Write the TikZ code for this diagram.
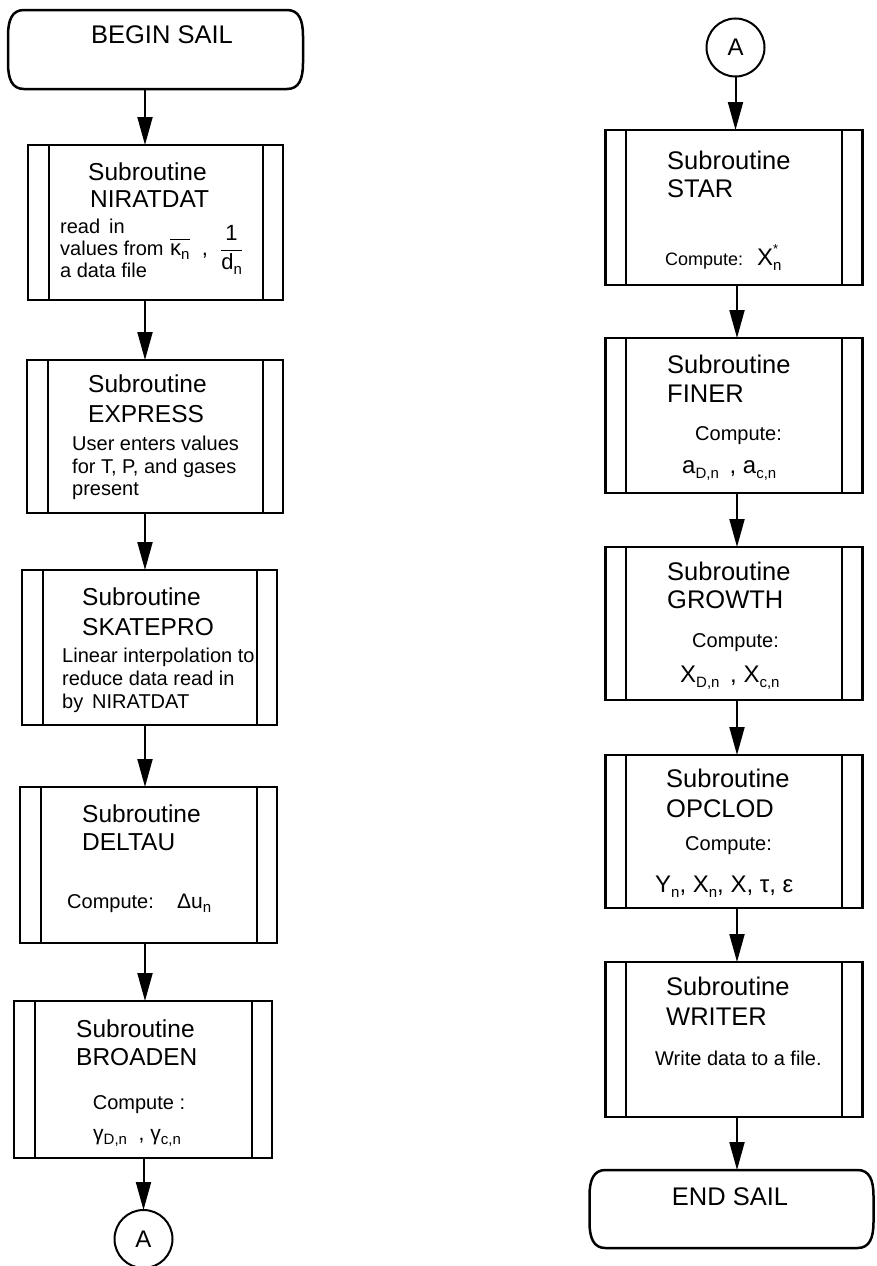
\documentclass[tikz,border=0pt]{standalone}
\usepackage{fontspec}
\setmainfont{Liberation Sans}
\usetikzlibrary{arrows.meta,calc}
\newcommand\tfontL{\fontsize{24.5}{29}\selectfont}
\newcommand\tfontR{\fontsize{25.5}{30}\selectfont}
\newcommand\bfont{\fontsize{20}{24}\selectfont}
\newcommand\mfont{\fontsize{24}{28}\selectfont}
\newcommand\sbs[1]{\raisebox{-0.22em}{\fontsize{15}{15}\selectfont #1}}
\newcommand\myinner[1]{%
  \draw[innerline] ($(#1.north west)+(20.5,0)$) -- ($(#1.south west)+(20.5,0)$);
  \draw[innerline] ($(#1.north east)+(-20.5,0)$) -- ($(#1.south east)+(-20.5,0)$);}
\newcommand\myterm[1]{%
  \draw[termline] ($(#1.north west)+(16,0)$) -- ($(#1.north east)+(-16,0)$)
   .. controls ($(#1.north east)+(-4,0)$) and ($(#1.north east)+(0,10)$) .. ($(#1.north east)+(0,26)$)
   -- ($(#1.south east)+(0,-26)$)
   .. controls ($(#1.south east)+(0,-10)$) and ($(#1.south east)+(-4,0)$) .. ($(#1.south east)+(-16,0)$)
   -- ($(#1.south west)+(16,0)$)
   .. controls ($(#1.south west)+(4,0)$) and ($(#1.south west)+(0,-10)$) .. ($(#1.south west)+(0,-26)$)
   -- ($(#1.north west)+(0,26)$)
   .. controls ($(#1.north west)+(0,10)$) and ($(#1.north west)+(4,0)$) .. cycle;}
\tikzset{
  subbox/.style={draw, line width=2.5pt, rectangle, inner sep=0pt, outer sep=0pt},
  termbox/.style={draw=none, rectangle, inner sep=0pt, outer sep=0pt},
  termline/.style={line width=2.5pt},
  innerline/.style={line width=2pt},
  conn/.style={draw, circle, line width=2pt, minimum size=58pt, inner sep=0pt, outer sep=0pt, font=\mfont},
  arr/.style={line width=2pt, -{Triangle[length=28pt,width=15pt]}},
  ttl/.style={anchor=base west, inner sep=0pt},
  txt/.style={anchor=base west, inner sep=0pt, font=\bfont},
}
\begin{document}
\begin{tikzpicture}[x=1pt,y=-1pt]
\useasboundingbox[fill=white] (0,0) rectangle (876,1266);
\coordinate (lx) at (145,0);
\coordinate (rx) at (737,0);

% ---------- left column ----------
\node[termbox, minimum width=295pt, minimum height=79pt] (begin) at (155.5,49.5) {};
\myterm{begin}
\node[anchor=base, inner sep=0pt, font=\fontsize{25.5}{30}\selectfont] (beginT) at (162,43) {BEGIN SAIL};

\node[subbox, minimum width=255pt, minimum height=155pt] (nir) at (155.5,222.5) {};
\myinner{nir}
\node[ttl, font=\tfontL] (nir1) at (88,180) {Subroutine};
\node[ttl, font=\tfontL] (nir2) at (90,207) {NIRATDAT};
\node[txt] (nir3) at (60,233) {read\, in};
\node[txt] (nir4) at (60,255) {values from};
\node[txt] (nir5) at (60,277) {a data file};
\node[ttl, font=\fontsize{22}{26}\selectfont] (nir6) at (170,255) {$\overline{\hbox{\rule{0pt}{14pt}κ\sbs{n}}}$\;\;,\; ${\displaystyle\frac{\hbox{\,1\,}}{\hbox{d\sbs{n}}}}$};

\node[subbox, minimum width=256pt, minimum height=153pt] (exp) at (155,436.5) {};
\myinner{exp}
\node[ttl, font=\tfontL] (exp1) at (88,392) {Subroutine};
\node[ttl, font=\tfontL] (exp2) at (88,422) {EXPRESS};
\node[txt] (exp3) at (72,450) {User enters values};
\node[txt] (exp4) at (72,473) {for T, P, and gases};
\node[txt] (exp5) at (72,495) {present};

\node[subbox, minimum width=255pt, minimum height=155pt] (ska) at (149.5,647.5) {};
\myinner{ska}
\node[ttl, font=\tfontL] (ska1) at (82,605) {Subroutine};
\node[ttl, font=\tfontL] (ska2) at (82,635) {SKATEPRO};
\node[txt] (ska3) at (62,662) {Linear interpolation to};
\node[txt] (ska4) at (62,685) {reduce data read in};
\node[txt] (ska5) at (62,708) {by\, NIRATDAT};

\node[subbox, minimum width=257pt, minimum height=156pt] (del) at (148.5,865) {};
\myinner{del}
\node[ttl, font=\tfontL] (del1) at (82,822) {Subroutine};
\node[ttl, font=\tfontL] (del2) at (82,850) {DELTAU};
\node[txt] (del3) at (67,908) {Compute:};
\node[ttl, font=\fontsize{21}{25}\selectfont] (del4) at (177,908) {Δu\sbs{n}};

\node[subbox, minimum width=258pt, minimum height=157pt] (bro) at (143,1079.5) {};
\myinner{bro}
\node[ttl, font=\tfontL] (bro1) at (76,1037) {Subroutine};
\node[ttl, font=\tfontL] (bro2) at (76,1065) {BROADEN};
\node[anchor=base, inner sep=0pt, font=\bfont] (bro3) at (139,1109) {Compute :};
\node[ttl, font=\fontsize{21}{25}\selectfont] (bro4) at (93,1140) {γ\sbs{D,n}\; , γ\sbs{c,n}};

\node[conn] (a1) at (143.5,1239) {A};

\draw[arr] (begin.south -| lx) -- (nir.north -| lx);
\draw[arr] (nir.south -| lx) -- (exp.north -| lx);
\draw[arr] (exp.south -| lx) -- (ska.north -| lx);
\draw[arr] (ska.south -| lx) -- (del.north -| lx);
\draw[arr] (del.south -| lx) -- (bro.north -| lx);
\draw[arr] (bro.south -| a1) -- (a1.north);

% ---------- right column ----------
\node[conn] (a2) at (735.5,47.5) {A};

\node[subbox, minimum width=257pt, minimum height=155pt] (star) at (734,207.5) {};
\myinner{star}
\node[ttl, font=\tfontR] (star1) at (667,169) {Subroutine};
\node[ttl, font=\tfontR] (star2) at (667,197) {STAR};
\node[ttl, font=\fontsize{18}{22}\selectfont] (star3) at (665,265) {Compute:};
\node[ttl, font=\mfont] (star4) at (757,265) {X\rlap{\raisebox{0.5em}{\fontsize{13}{13}\selectfont *}}\sbs{n}};

\node[subbox, minimum width=257pt, minimum height=155pt] (fin) at (734,415.5) {};
\myinner{fin}
\node[ttl, font=\tfontR] (fin1) at (667,373) {Subroutine};
\node[ttl, font=\tfontR] (fin2) at (667,402) {FINER};
\node[txt] (fin3) at (695,440) {Compute:};
\node[ttl, font=\mfont] (fin4) at (682,473) {a\sbs{D,n}\, , a\sbs{c,n}};

\node[subbox, minimum width=257pt, minimum height=153pt] (gro) at (734,623.5) {};
\myinner{gro}
\node[ttl, font=\tfontR] (gro1) at (667,580) {Subroutine};
\node[ttl, font=\tfontR] (gro2) at (667,608) {GROWTH};
\node[txt] (gro3) at (692,647) {Compute:};
\node[ttl, font=\mfont] (gro4) at (680,682) {X\sbs{D,n}\, , X\sbs{c,n}};

\node[subbox, minimum width=257pt, minimum height=153pt] (opc) at (734,831.5) {};
\myinner{opc}
\node[ttl, font=\tfontR] (opc1) at (666,787) {Subroutine};
\node[ttl, font=\tfontR] (opc2) at (666,817) {OPCLOD};
\node[txt] (opc3) at (685,850) {Compute:};
\node[ttl, font=\mfont] (opc4) at (655,892) {Y\sbs{n}, X\sbs{n}, X, τ, ε};

\node[subbox, minimum width=257pt, minimum height=155pt] (wri) at (734,1039.5) {};
\myinner{wri}
\node[ttl, font=\tfontR] (wri1) at (666,995) {Subroutine};
\node[ttl, font=\tfontR] (wri2) at (666,1025) {WRITER};
\node[txt] (wri3) at (655,1065) {Write data to a file.};

\node[termbox, minimum width=284pt, minimum height=78pt] (endn) at (731.5,1209) {};
\myterm{endn}
\node[anchor=base, inner sep=0pt, font=\fontsize{25.5}{30}\selectfont] (endT) at (730,1205) {END SAIL};

\draw[arr] (a2.south) -- (star.north -| a2);
\draw[arr] (star.south -| rx) -- (fin.north -| rx);
\draw[arr] (fin.south -| rx) -- (gro.north -| rx);
\draw[arr] (gro.south -| rx) -- (opc.north -| rx);
\draw[arr] (opc.south -| rx) -- (wri.north -| rx);
\draw[arr] (wri.south -| rx) -- (endn.north -| rx);
\end{tikzpicture}
\end{document}
